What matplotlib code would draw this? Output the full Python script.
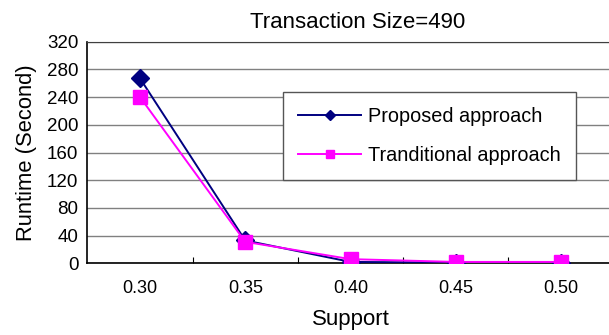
import matplotlib
matplotlib.use("Agg")
import matplotlib.pyplot as plt
import numpy as np

plt.rcParams['font.family'] = ['Liberation Sans', 'DejaVu Sans']

support = ["0.30", "0.35", "0.40", "0.45", "0.50"]
proposed = [267, 33, 2, 1, 1]
traditional = [240, 31, 6, 2, 2]
y_ticks = [0, 40, 80, 120, 160, 200, 240, 280, 320]

W, H = 609, 335
fig = plt.figure(figsize=(W / 100, H / 100), dpi=100)
left, right, top, bottom = 87.4, 613.6, 41.7, 263.3
ax = fig.add_axes([left / W, 1 - bottom / H, (right - left) / W, (bottom - top) / H])

x = np.arange(len(support))
ax.plot(x, proposed, color='#000080', marker='D', markersize=9, lw=1.4,
        label='Proposed approach', zorder=3)
ax.plot(x, traditional, color='#FF00FF', marker='s', markersize=9.5, lw=1.4,
        label='Tranditional approach', zorder=4)

ax.set_xlim(-0.5, len(support) - 0.5)
ax.set_ylim(0, 320)
ax.set_yticks(y_ticks)
ax.set_xticks(x)
ax.set_xticklabels(support)
ax.set_xticks(np.arange(0.5, len(support) - 0.5, 1), minor=True)
ax.tick_params(axis='x', which='major', length=0, pad=12, labelsize=13)
ax.tick_params(axis='x', which='minor', direction='in', length=4, width=0.8)
ax.tick_params(axis='y', length=0, pad=6.5, labelsize=13.5)

ax.yaxis.grid(True, color='#808080', lw=1.0)
ax.set_axisbelow(True)
for s in ['left', 'bottom']:
    ax.spines[s].set_color('black')
    ax.spines[s].set_linewidth(1.2)
ax.spines['top'].set_color('#404040')
ax.spines['right'].set_visible(False)

ax.set_xlabel('Support', fontsize=16, labelpad=9)
ax.set_ylabel('Runtime (Second)', fontsize=15.8, labelpad=7)
ax.set_title('Transaction Size=490', fontsize=16, pad=10, x=(358 - left) / (right - left))

leg = fig.legend(loc='upper left', bbox_to_anchor=(283 / W, 1 - 92 / H),
                 bbox_transform=fig.transFigure, borderaxespad=0,
                 fontsize=14.3, handlelength=3.2, handletextpad=0.35,
                 borderpad=0.75, labelspacing=1.0, markerscale=0.6,
                 fancybox=False, framealpha=1, edgecolor='#555555')
leg.get_frame().set_linewidth(1.0)

fig.savefig('out.png', dpi=100)
